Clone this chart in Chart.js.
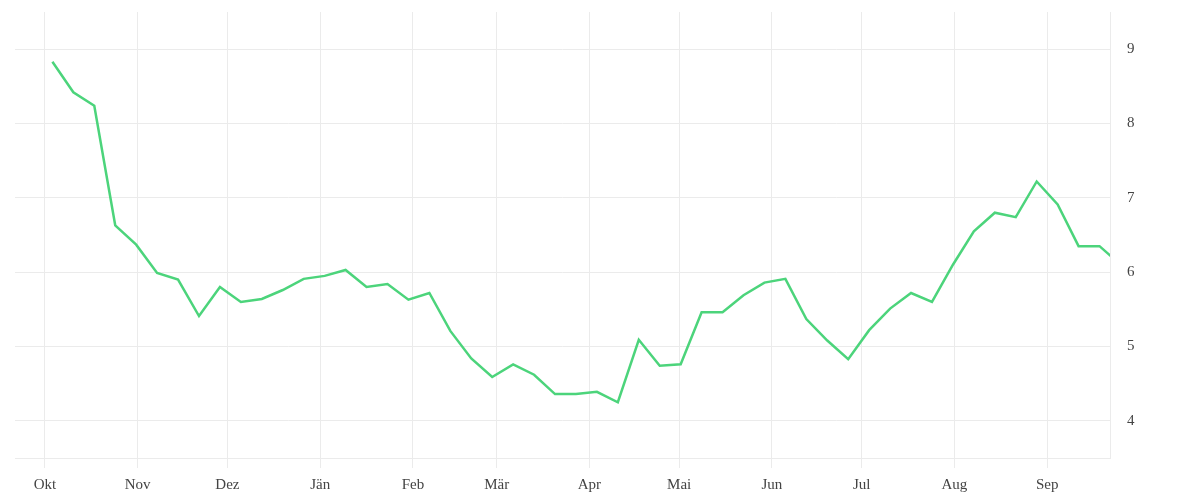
<!DOCTYPE html>
<html>
<head>
<meta charset="utf-8">
<script src="https://cdn.jsdelivr.net/npm/chart.js@4/dist/chart.umd.min.js"></script>
<style>
  html, body { margin: 0; padding: 0; background: #fff; }
  #wrap { width: 1200px; height: 500px; }
</style>
</head>
<body>
<div id="wrap"><canvas id="chart"></canvas></div>
<script>
// week dates (Mondays), last one lies past the visible range
var weeks = [
  "2022-10-03","2022-10-10","2022-10-17","2022-10-24","2022-10-31","2022-11-07","2022-11-14","2022-11-21",
  "2022-11-28","2022-12-05","2022-12-12","2022-12-19","2022-12-26","2023-01-02","2023-01-09","2023-01-16",
  "2023-01-23","2023-01-30","2023-02-06","2023-02-13","2023-02-20","2023-02-27","2023-03-06","2023-03-13",
  "2023-03-20","2023-03-27","2023-04-03","2023-04-10","2023-04-17","2023-04-24","2023-05-01","2023-05-08",
  "2023-05-15","2023-05-22","2023-05-29","2023-06-05","2023-06-12","2023-06-19","2023-06-26","2023-07-03",
  "2023-07-10","2023-07-17","2023-07-24","2023-07-31","2023-08-07","2023-08-14","2023-08-21","2023-08-28",
  "2023-09-04","2023-09-11","2023-09-18","2023-09-25"
];
var values = [
  8.83, 8.42, 8.24, 6.63, 6.37, 5.99, 5.90, 5.41,
  5.80, 5.60, 5.64, 5.76, 5.91, 5.95, 6.03, 5.80,
  5.84, 5.63, 5.72, 5.21, 4.84, 4.59, 4.76, 4.62,
  4.36, 4.36, 4.39, 4.25, 5.09, 4.74, 4.76, 5.46,
  5.46, 5.69, 5.86, 5.91, 5.37, 5.08, 4.83, 5.22,
  5.51, 5.72, 5.60, 6.10, 6.55, 6.80, 6.74, 7.22,
  6.91, 6.35, 6.35, 6.10
];
var monthStarts = ["2022-10-01","2022-11-01","2022-12-01","2023-01-01","2023-02-01","2023-03-01",
  "2023-04-01","2023-05-01","2023-06-01","2023-07-01","2023-08-01","2023-09-01"];
var monthLabels = ["Okt","Nov","Dez","Jän","Feb","Mär","Apr","Mai","Jun","Jul","Aug","Sep"];
var yTicks = [4, 5, 6, 7, 8, 9];

var origin = Date.UTC(2022, 9, 1);
function dayOf(s) {
  var p = s.split("-");
  return (Date.UTC(+p[0], +p[1] - 1, +p[2]) - origin) / 86400000;
}

var points = weeks.map(function (w, i) { return { x: dayOf(w) + 0.5, y: values[i] }; });
var monthDays = monthStarts.map(dayOf);

var gridColor = "#ebebeb";
var tickFont = { family: "'Liberation Serif', serif", size: 15 };

new Chart(document.getElementById("chart").getContext("2d"), {
  type: "line",
  data: {
    datasets: [{
      data: points,
      borderColor: "#4cd47b",
      borderWidth: 2.5,
      pointRadius: 0,
      tension: 0,
      fill: false
    }]
  },
  options: {
    responsive: true,
    maintainAspectRatio: false,
    animation: false,
    layout: { padding: { left: 15, top: 12, right: 0, bottom: 0 } },
    plugins: { legend: { display: false }, tooltip: { enabled: false } },
    scales: {
      x: {
        type: "linear",
        min: dayOf("2022-09-21"),
        max: dayOf("2023-09-22"),
        afterBuildTicks: function (scale) {
          scale.ticks = monthDays.map(function (d) { return { value: d }; });
        },
        afterFit: function (scale) { scale.height = 42; scale.paddingLeft = 0; scale.paddingRight = 0; },
        grid: { color: gridColor, tickLength: 10, lineWidth: 1 },
        border: { color: gridColor },
        ticks: {
          autoSkip: false,
          maxRotation: 0,
          padding: 8,
          color: "#444",
          font: tickFont,
          callback: function (v, i) { return monthLabels[i]; }
        }
      },
      y: {
        position: "right",
        min: 3.5,
        max: 9.5,
        afterBuildTicks: function (scale) {
          scale.ticks = yTicks.map(function (v) { return { value: v }; });
        },
        afterFit: function (scale) { scale.width = 90; scale.paddingTop = 0; scale.paddingBottom = 0; },
        grid: { color: gridColor, drawTicks: false },
        border: { color: gridColor },
        ticks: { padding: 17, color: "#444", font: tickFont }
      }
    }
  }
});
</script>
</body>
</html>
